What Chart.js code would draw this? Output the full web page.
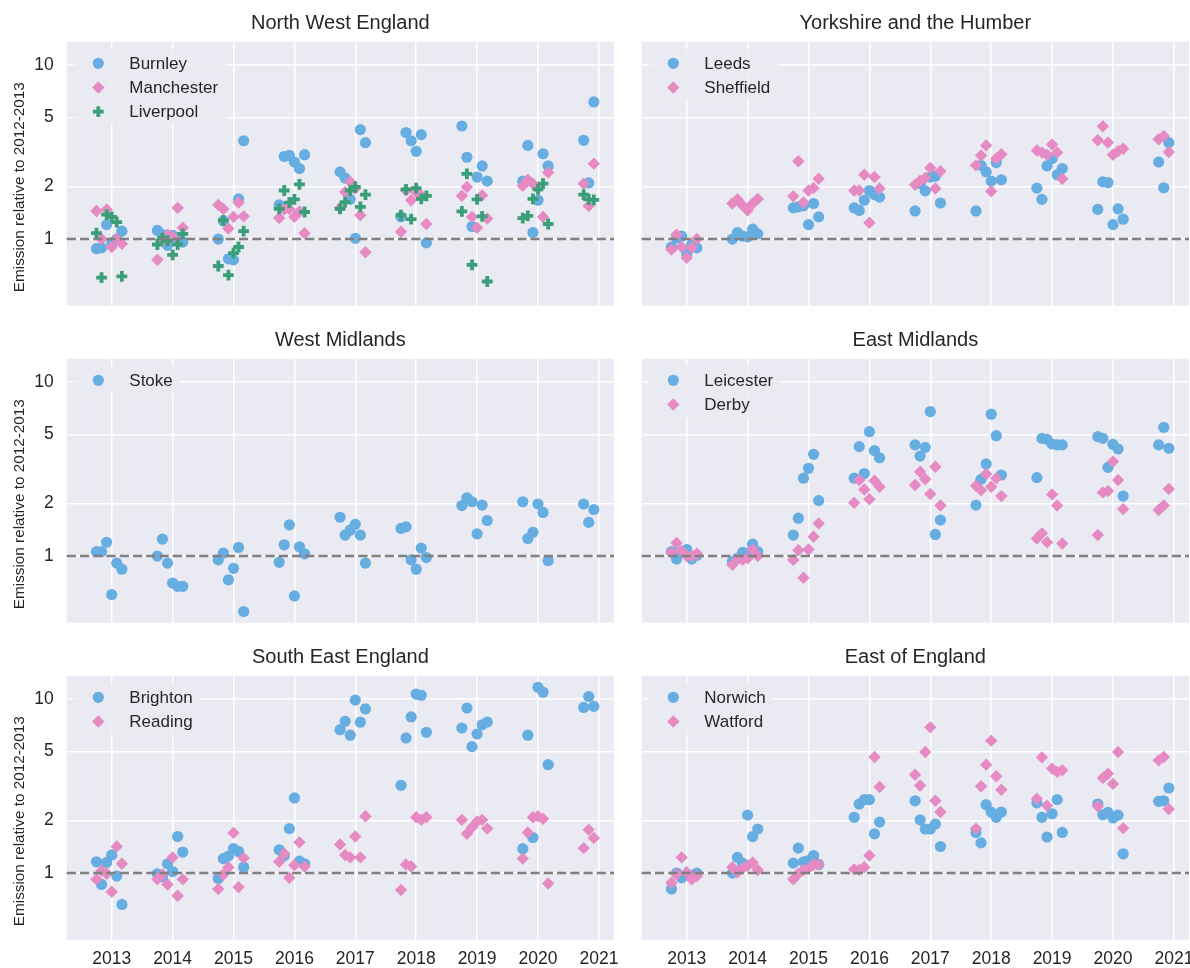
<!DOCTYPE html>
<html>
<head>
<meta charset="utf-8">
<script src="https://cdn.jsdelivr.net/npm/chart.js@4/dist/chart.umd.min.js"></script>
<style>
  body { margin: 0; background: #fff; width: 1190px; height: 968px; position: relative; overflow: hidden; }
  canvas { position: absolute; }
</style>
</head>
<body>
<script>
// x positions: Oct..Mar around each year tick (fractional years)
const xPos = [
  2012.75, 2012.833, 2012.917, 2013.0, 2013.083, 2013.167,
  2013.75, 2013.833, 2013.917, 2014.0, 2014.083, 2014.167,
  2014.75, 2014.833, 2014.917, 2015.0, 2015.083, 2015.167,
  2015.75, 2015.833, 2015.917, 2016.0, 2016.083, 2016.167,
  2016.75, 2016.833, 2016.917, 2017.0, 2017.083, 2017.167,
  2017.75, 2017.833, 2017.917, 2018.0, 2018.083, 2018.167,
  2018.75, 2018.833, 2018.917, 2019.0, 2019.083, 2019.167,
  2019.75, 2019.833, 2019.917, 2020.0, 2020.083, 2020.167,
  2020.75, 2020.833, 2020.917
];
const yearTicks = [2013, 2014, 2015, 2016, 2017, 2018, 2019, 2020, 2021];
const yTicks = [1, 2, 5, 10];

const burnley = [0.88, 0.89, 1.21, 0.95, 1.00, 1.11, 1.12, 1.06, 0.92, 1.05, 1.01, 0.96,
  1.00, 1.27, 0.77, 0.76, 1.70, 3.67, 1.57, 2.98, 3.02, 2.77, 2.54, 3.05,
  2.43, 2.24, 1.69, 1.01, 4.25, 3.58, 1.34, 4.09, 3.67, 3.19, 3.98, 0.95,
  4.46, 2.95, 1.18, 2.27, 2.63, 2.15, 2.15, 3.45, 1.09, 1.67, 3.09, 2.63,
  3.69, 2.10, 6.13];
const manchester = [1.45, 1.00, 1.48, 0.90, 1.00, 0.94, 0.76, 0.98, 1.06, 1.03, 1.51, 1.16,
  1.57, 1.49, 1.15, 1.34, 1.62, 1.35, 1.32, 1.48, 1.49, 1.34, 1.44, 1.08,
  1.51, 1.86, 2.13, 1.95, 1.37, 0.84, 1.10, 1.90, 1.67, 1.86, 1.78, 1.22,
  1.77, 1.99, 1.34, 1.16, 1.78, 1.31, 2.02, 2.19, 2.08, 1.95, 1.34, 2.41,
  2.08, 1.55, 2.71];
const liverpool = [1.08, 0.60, 1.38, 1.34, 1.25, 0.61, 0.93, 1.01, 0.98, 0.81, 0.93, 1.07,
  0.70, 1.28, 0.62, 0.83, 0.90, 1.11, 1.49, 1.90, 1.62, 1.69, 2.06, 1.43,
  1.49, 1.63, 1.90, 1.99, 1.53, 1.80, 1.37, 1.93, 1.30, 1.96, 1.70, 1.77,
  1.44, 2.37, 0.71, 1.69, 1.35, 0.57, 1.32, 1.36, 1.70, 1.93, 2.08, 1.22,
  1.80, 1.69, 1.68];
const leeds = [0.90, 1.01, 1.04, 0.82, 0.93, 0.89, 1.00, 1.09, 1.04, 1.03, 1.14, 1.07,
  1.51, 1.53, 1.55, 1.21, 1.60, 1.34, 1.51, 1.46, 1.67, 1.90, 1.80, 1.74,
  1.45, 2.08, 1.89, 2.27, 2.30, 1.61, 1.45, 2.65, 2.43, 2.15, 2.75, 2.19,
  1.96, 1.69, 2.63, 2.90, 2.34, 2.54, 1.48, 2.13, 2.11, 1.21, 1.49, 1.30,
  2.77, 1.97, 3.58];
const sheffield = [0.87, 1.06, 0.90, 0.78, 0.89, 1.00, 1.60, 1.69, 1.56, 1.46, 1.60, 1.70,
  1.76, 2.80, 1.62, 1.90, 1.96, 2.22, 1.90, 1.90, 2.34, 1.24, 2.27, 1.95,
  2.05, 2.16, 2.24, 2.56, 1.95, 2.45, 2.65, 3.02, 3.45, 1.88, 2.90, 3.07,
  3.23, 3.14, 3.05, 3.49, 3.14, 2.22, 3.69, 4.44, 3.58, 3.05, 3.20, 3.30,
  3.74, 3.91, 3.16];
const stoke = [1.06, 1.06, 1.20, 0.60, 0.91, 0.84, 1.00, 1.25, 0.91, 0.70, 0.67, 0.67,
  0.95, 1.04, 0.73, 0.85, 1.12, 0.48, 0.92, 1.16, 1.51, 0.59, 1.13, 1.03,
  1.67, 1.32, 1.41, 1.52, 1.32, 0.91, 1.44, 1.47, 0.95, 0.84, 1.11, 0.98,
  1.95, 2.16, 2.05, 1.34, 1.96, 1.60, 2.05, 1.26, 1.37, 1.99, 1.78, 0.94,
  1.99, 1.56, 1.85];
const leicester = [1.06, 0.96, 1.06, 1.09, 0.96, 1.01, 0.93, 0.97, 1.05, 1.04, 1.17, 1.06,
  1.32, 1.65, 2.80, 3.19, 3.84, 2.08, 2.80, 4.25, 2.98, 5.18, 4.03, 3.67,
  4.35, 3.75, 4.21, 6.76, 1.33, 1.61, 1.96, 2.76, 3.38, 6.53, 4.91, 2.92,
  2.82, 4.74, 4.68, 4.40, 4.35, 4.35, 4.85, 4.74, 3.23, 4.38, 4.12, 2.21,
  4.35, 5.49, 4.16];
const derby = [1.05, 1.19, 1.07, 1.00, 1.00, 1.03, 0.89, 0.96, 0.95, 0.97, 1.09, 1.00,
  0.95, 1.08, 0.75, 1.09, 1.29, 1.54, 2.02, 2.73, 2.41, 2.12, 2.71, 2.50,
  2.56, 3.05, 2.76, 2.27, 3.26, 1.95, 2.53, 2.39, 2.96, 2.50, 2.80, 2.21,
  1.26, 1.35, 1.20, 2.26, 1.95, 1.18, 1.32, 2.32, 2.36, 3.49, 2.73, 1.86,
  1.84, 1.95, 2.43];
const brighton = [1.16, 0.86, 1.15, 1.27, 0.96, 0.66, 0.99, 0.95, 1.13, 1.02, 1.62, 1.32,
  0.93, 1.21, 1.25, 1.38, 1.33, 1.08, 1.36, 1.26, 1.80, 2.70, 1.17, 1.13,
  6.66, 7.44, 6.19, 9.85, 7.35, 8.76, 3.19, 5.97, 7.88, 10.67, 10.49, 6.43,
  6.81, 8.87, 5.32, 6.29, 7.11, 7.37, 1.38, 6.19, 1.60, 11.67, 10.93, 4.19,
  8.94, 10.33, 9.06];
const reading = [0.92, 1.03, 0.99, 0.78, 1.42, 1.13, 0.92, 0.98, 0.86, 1.23, 0.74, 0.92,
  0.81, 0.98, 1.08, 1.70, 0.83, 1.22, 1.16, 1.29, 0.94, 1.11, 1.50, 1.09,
  1.46, 1.27, 1.23, 1.62, 1.23, 2.12, 0.80, 1.12, 1.09, 2.09, 2.02, 2.09,
  2.02, 1.68, 1.83, 1.98, 2.02, 1.80, 1.21, 1.71, 2.09, 2.12, 2.05, 0.87,
  1.39, 1.77, 1.59];
const norwich = [0.81, 1.00, 0.94, 0.98, 0.97, 1.00, 1.00, 1.23, 1.14, 2.15, 1.62, 1.79,
  1.14, 1.39, 1.16, 1.18, 1.26, 1.12, 2.09, 2.49, 2.64, 2.64, 1.68, 1.96,
  2.60, 2.02, 1.79, 1.79, 1.91, 1.42, 1.71, 1.49, 2.47, 2.24, 2.09, 2.24,
  2.53, 2.09, 1.61, 2.19, 2.64, 1.71, 2.49, 2.16, 2.23, 2.07, 2.15, 1.29,
  2.58, 2.60, 3.08];
const watford = [0.88, 0.98, 1.23, 1.01, 0.92, 0.96, 1.08, 1.01, 1.06, 1.10, 1.15, 1.04,
  0.92, 0.99, 1.04, 1.06, 1.12, 1.12, 1.05, 1.04, 1.08, 1.26, 4.64, 3.12,
  3.67, 3.18, 4.96, 6.87, 2.60, 2.24, 1.80, 3.15, 4.19, 5.76, 3.60, 3.01,
  2.67, 4.62, 2.44, 3.98, 3.81, 3.89, 2.42, 3.52, 3.72, 3.25, 4.96, 1.81,
  4.44, 4.64, 2.33];

const panels = [
  { title: "North West England", names: ["Burnley", "Manchester", "Liverpool"], values: [burnley, manchester, liverpool] },
  { title: "Yorkshire and the Humber", names: ["Leeds", "Sheffield"], values: [leeds, sheffield] },
  { title: "West Midlands", names: ["Stoke"], values: [stoke] },
  { title: "East Midlands", names: ["Leicester", "Derby"], values: [leicester, derby] },
  { title: "South East England", names: ["Brighton", "Reading"], values: [brighton, reading] },
  { title: "East of England", names: ["Norwich", "Watford"], values: [norwich, watford] }
];
const yLabel = "Emission relative to 2012-2013";

const FONT = '"Liberation Sans", Arial, sans-serif';
const TEXT = "#262626";
const markers = [
  { pointStyle: "circle", radius: 5.6, color: "#66ADE2", borderWidth: 0 },
  { pointStyle: "rectRot", radius: 6.2, color: "#E68AC3", borderWidth: 0 },
  { pointStyle: "cross", radius: 5.4, color: "#3A9F78", borderWidth: 3.8 }
];

const X_MIN = 2012.261, X_MAX = 2021.248;
const Y_MIN = 0.414, Y_MAX = 13.6;

const colLeft = [0, 630];
const colWidth = [620, 560];
const yAxisW = [66.7, 11.7];
const padRight = [6, 1];
const rowTop = [0, 317.3, 634];
const rowHeight = [330, 330, 334];
const AREA_TOP = 41.7, AREA_H = 264;

const decor = {
  id: "decor",
  beforeDraw(chart) {
    const { ctx, chartArea: a } = chart;
    ctx.save();
    ctx.fillStyle = "#EAEAF2";
    ctx.fillRect(a.left, a.top, a.right - a.left, a.bottom - a.top);
    ctx.restore();
  },
  afterDatasetsDraw(chart) {
    const { ctx, chartArea: a, scales } = chart;
    const yy = scales.y.getPixelForValue(1);
    ctx.save();
    ctx.strokeStyle = "#808080";
    ctx.lineWidth = 2.5;
    ctx.setLineDash([9.25, 4]);
    ctx.beginPath();
    ctx.moveTo(a.left, yy);
    ctx.lineTo(a.right, yy);
    ctx.stroke();
    ctx.restore();
  },
  afterDraw(chart) {
    const { ctx, chartArea: a } = chart;
    const sets = chart.data.datasets;
    ctx.save();
    // legend box
    ctx.font = "17px " + FONT;
    let maxW = 0;
    sets.forEach(d => { maxW = Math.max(maxW, ctx.measureText(d.label).width); });
    const bx = a.left + 7, by = a.top + 7;
    const bw = 55.6 + maxW + 8;
    const bh = 27.9 + (sets.length - 1) * 24.2;
    ctx.fillStyle = "rgba(234,234,242,0.85)";
    ctx.beginPath();
    ctx.roundRect(bx, by, bw, bh, 3);
    ctx.fill();
    sets.forEach((d, i) => {
      const cy = by + 14.6 + i * 24.2;
      const m = markers[i];
      ctx.fillStyle = m.color;
      ctx.strokeStyle = m.color;
      ctx.lineWidth = m.borderWidth;
      Chart.helpers.drawPoint(ctx, { pointStyle: m.pointStyle, radius: m.radius, rotation: 0, borderWidth: m.borderWidth }, bx + 24.6, cy);
      ctx.fillStyle = TEXT;
      ctx.textBaseline = "middle";
      ctx.textAlign = "left";
      ctx.fillText(d.label, bx + 55.6, cy + 1);
    });
    // panel title
    ctx.font = "20px " + FONT;
    ctx.fillStyle = TEXT;
    ctx.textAlign = "center";
    ctx.textBaseline = "alphabetic";
    ctx.fillText(chart.options.panelTitle, (a.left + a.right) / 2, a.top - 12.5);
    // y axis label (left column only)
    if (chart.options.showYLabel) {
      ctx.font = "15.3px " + FONT;
      ctx.translate(20, (a.top + a.bottom) / 2 + 13.5);
      ctx.rotate(-Math.PI / 2);
      ctx.textBaseline = "middle";
      ctx.fillText(yLabel, 0, 0);
    }
    ctx.restore();
  }
};

panels.forEach((p, idx) => {
  const col = idx % 2, row = Math.floor(idx / 2);
  const canvas = document.createElement("canvas");
  canvas.width = colWidth[col];
  canvas.height = rowHeight[row];
  canvas.style.left = colLeft[col] + "px";
  canvas.style.top = rowTop[row] + "px";
  document.body.appendChild(canvas);

  const datasets = p.names.map((name, i) => ({
    label: name,
    data: xPos.map((x, k) => ({ x: x, y: p.values[i][k] })),
    pointStyle: markers[i].pointStyle,
    pointRadius: markers[i].radius,
    pointBackgroundColor: markers[i].color,
    pointBorderColor: markers[i].color,
    pointBorderWidth: markers[i].borderWidth,
    order: p.names.length - i
  }));

  new Chart(canvas.getContext("2d"), {
    type: "scatter",
    data: { datasets: datasets },
    options: {
      panelTitle: p.title,
      showYLabel: col === 0,
      responsive: false,
      animation: false,
      events: [],
      layout: { autoPadding: false, padding: { top: AREA_TOP, right: padRight[col], left: 0, bottom: 0 } },
      plugins: { legend: { display: false }, tooltip: { enabled: false } },
      scales: {
        x: {
          type: "linear", min: X_MIN, max: X_MAX,
          afterBuildTicks: s => { s.ticks = yearTicks.map(v => ({ value: v })); },
          afterFit: s => {
            s.height = rowHeight[row] - AREA_TOP - AREA_H;
            s.paddingLeft = 0; s.paddingRight = 0;
          },
          grid: { color: "#ffffff", lineWidth: 1.5, drawTicks: false },
          border: { display: false },
          ticks: {
            display: row === 2, padding: 9, color: TEXT,
            font: { family: FONT, size: 17.5 },
            callback: v => String(v)
          }
        },
        y: {
          type: "logarithmic", min: Y_MIN, max: Y_MAX,
          afterBuildTicks: s => { s.ticks = yTicks.map(v => ({ value: v })); },
          afterFit: s => {
            s.width = yAxisW[col];
            s.paddingTop = 0; s.paddingBottom = 0;
          },
          grid: { color: "#ffffff", lineWidth: 1.5, drawTicks: false },
          border: { display: false },
          ticks: {
            display: col === 0, padding: 13, color: TEXT,
            font: { family: FONT, size: 17.5 },
            callback: v => String(v)
          }
        }
      }
    },
    plugins: [decor]
  });
});
</script>
</body>
</html>
